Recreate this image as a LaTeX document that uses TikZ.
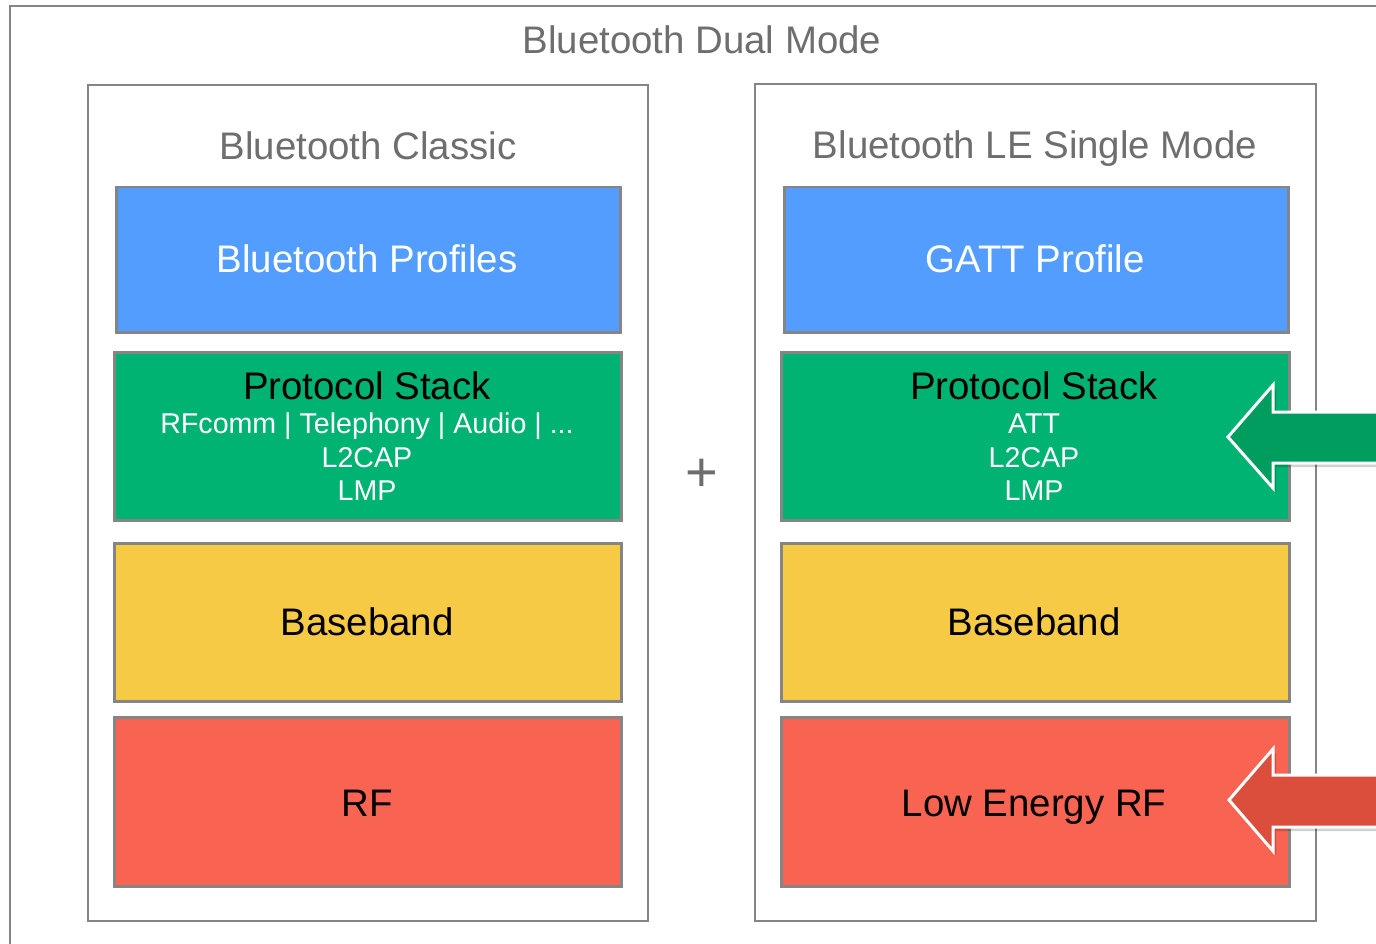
\documentclass[tikz,border=0pt]{standalone}
\usepackage{fontspec}
\setmainfont{Liberation Sans}
\definecolor{framegray}{HTML}{858585}
\definecolor{titlegray}{HTML}{6E6E6E}
\definecolor{cblue}{HTML}{529DFF}
\definecolor{cgreen}{HTML}{00B373}
\definecolor{cyellow}{HTML}{F6CA45}
\definecolor{cred}{HTML}{F96351}
\definecolor{agreen}{HTML}{009D5E}
\definecolor{ared}{HTML}{DB4E3B}
\newcommand\fBig{\fontsize{38.4}{44}\selectfont}
\newcommand\fSmall{\fontsize{28.6}{33}\selectfont}
\newcommand\fPlus{\fontsize{56}{60}\selectfont}
\tikzset{
  frame/.style={draw=framegray, line width=2.5pt},
  layer/.style={draw=framegray, line width=2.5pt, inner sep=0pt, anchor=north west},
  bigtxt/.style={anchor=base, inner sep=0pt, font=\fBig},
  smalltxt/.style={anchor=base, inner sep=0pt, font=\fSmall, text=white},
  bigarrow/.style={draw=white, line width=3pt, line join=miter},
  arrowshadow/.style={fill=black, opacity=0.18, draw=none}
}
\begin{document}
\begin{tikzpicture}[x=1pt,y=-1pt]
\useasboundingbox (0,0) rectangle (1376,944);
\clip (0,0) rectangle (1376,944);
\fill[white] (0,0) rectangle (1376,944);
% outer frame (runs off the page right and bottom)
\draw[frame] (10,6) rectangle (1420,990);
\node[bigtxt, text=titlegray] (dual) at (702,53.5) {Bluetooth Dual Mode};
% left column
\draw[frame] (88,85) rectangle (648,921);
\node[bigtxt, text=titlegray] (classic) at (368,160) {Bluetooth Classic};
\node[layer, fill=cblue, minimum width=504pt, minimum height=145pt] (lprof) at (115,186) {};
\node[bigtxt, text=white] (lproft) at (367,272) {Bluetooth Profiles};
\node[layer, fill=cgreen, minimum width=507pt, minimum height=168pt] (lstack) at (113,351) {};
\node[bigtxt] (lstackt) at (367,399) {Protocol Stack};
\node[smalltxt] (lsub1) at (367,433) {RFcomm | Telephony | Audio | ...};
\node[smalltxt] (lsub2) at (367,467) {L2CAP};
\node[smalltxt] (lsub3) at (367,500) {LMP};
\node[layer, fill=cyellow, minimum width=507pt, minimum height=158pt] (lbase) at (113,542) {};
\node[bigtxt] (lbaset) at (367,635) {Baseband};
\node[layer, fill=cred, minimum width=507pt, minimum height=169pt] (lrf) at (113,716) {};
\node[bigtxt] (lrft) at (367,816) {RF};
% plus
\node[anchor=base, inner sep=0pt, font=\fPlus, text=titlegray] (plus) at (702,491) {+};
% right column
\draw[frame] (755,84) rectangle (1316,921);
\node[bigtxt, text=titlegray] (le) at (1035,159) {Bluetooth LE Single Mode};
\node[layer, fill=cblue, minimum width=504pt, minimum height=145pt] (rprof) at (783,186) {};
\node[bigtxt, text=white] (rproft) at (1035,272) {GATT Profile};
\node[layer, fill=cgreen, minimum width=508pt, minimum height=168pt] (rstack) at (780,351) {};
\node[bigtxt] (rstackt) at (1034,399) {Protocol Stack};
\node[smalltxt] (rsub1) at (1034,433) {ATT};
\node[smalltxt] (rsub2) at (1034,467) {L2CAP};
\node[smalltxt] (rsub3) at (1034,500) {LMP};
\node[layer, fill=cyellow, minimum width=508pt, minimum height=158pt] (rbase) at (780,542) {};
\node[bigtxt] (rbaset) at (1034,635) {Baseband};
\node[layer, fill=cred, minimum width=508pt, minimum height=169pt] (rrf) at (780,716) {};
\node[bigtxt] (rrft) at (1034,816) {Low Energy RF};
% arrows
\fill[arrowshadow] (1231,441) -- (1276,389) -- (1276,416) -- (1410,416) -- (1410,467) -- (1276,467) -- (1276,492) -- cycle;
\draw[bigarrow, fill=agreen] (1228,437) -- (1273,385) -- (1273,412) -- (1410,412) -- (1410,463) -- (1273,463) -- (1273,488) -- cycle;
\fill[arrowshadow] (1232,804) -- (1276,753) -- (1276,779) -- (1410,779) -- (1410,831) -- (1276,831) -- (1276,855) -- cycle;
\draw[bigarrow, fill=ared] (1229,800) -- (1273,749) -- (1273,775) -- (1410,775) -- (1410,827) -- (1273,827) -- (1273,851) -- cycle;
\end{tikzpicture}
\end{document}
